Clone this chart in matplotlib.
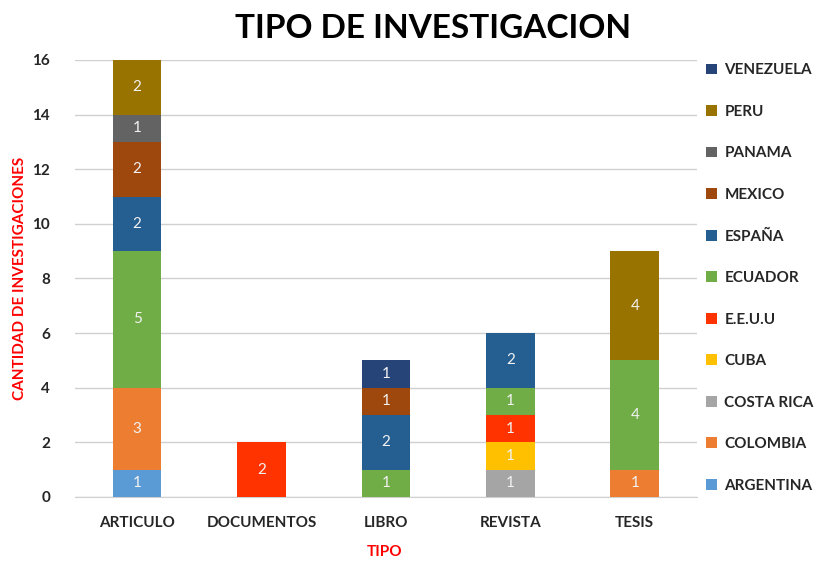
import matplotlib
matplotlib.use("Agg")
import matplotlib.pyplot as plt
import numpy as np

categories = ["ARTICULO", "DOCUMENTOS", "LIBRO", "REVISTA", "TESIS"]
countries = ["ARGENTINA", "COLOMBIA", "COSTA RICA", "CUBA", "E.E.U.U", "ECUADOR",
             "ESPAÑA", "MEXICO", "PANAMA", "PERU", "VENEZUELA"]
argentina = [1, 0, 0, 0, 0]
colombia = [3, 0, 0, 0, 1]
costa_rica = [0, 0, 0, 1, 0]
cuba = [0, 0, 0, 1, 0]
eeuu = [0, 2, 0, 1, 0]
ecuador = [5, 0, 1, 1, 4]
espana = [2, 0, 2, 2, 0]
mexico = [2, 0, 1, 0, 0]
panama = [1, 0, 0, 0, 0]
peru = [2, 0, 0, 0, 4]
venezuela = [0, 0, 1, 0, 0]
series = [argentina, colombia, costa_rica, cuba, eeuu, ecuador, espana, mexico, panama, peru, venezuela]
colors = ["#5B9BD5", "#ED7D31", "#A5A5A5", "#FFC000", "#FF3300", "#70AD47",
          "#255E91", "#9E480E", "#636363", "#997300", "#264478"]

plt.rcParams['font.family'] = ['Lato', 'DejaVu Sans']
fig = plt.figure(figsize=(8.27, 5.61), dpi=100)
ax = fig.add_axes([0.0907, 0.1141, 0.752, 0.779])
x = np.arange(len(categories))
bottom = np.zeros(len(categories))
handles = []
for name, vals, c in zip(countries, series, colors):
    vals = np.array(vals, dtype=float)
    b = ax.bar(x, vals, 0.39, bottom=bottom, color=c, label=name, zorder=3)
    for xi, v, bo in zip(x, vals, bottom):
        if v > 0:
            ax.text(xi, bo + v / 2, f"{int(v)}", ha="center", va="center",
                    color="#F2F2F2", fontsize=11, zorder=4)
    bottom += vals
    handles.append(b)

ax.set_xlim(-0.5, 4.5)
ax.set_ylim(0, 16)
ax.set_yticks(range(0, 17, 2))
ax.grid(axis="y", color="#D0D0D0", linewidth=1, zorder=0)
for s in ["top", "right", "left"]:
    ax.spines[s].set_visible(False)
ax.spines["bottom"].set_color("#D0D0D0")
ax.tick_params(length=0)
ax.set_xticks(x)
ax.set_xticklabels(categories, fontsize=11, color="#262626", fontweight="bold")
for t in ax.get_yticklabels():
    t.set_fontweight("bold")
    t.set_fontsize(11)
    t.set_color("#262626")
ax.tick_params(axis="y", pad=18)
ax.tick_params(axis="x", pad=14)
fig.text(385 / 827, 1 - 552 / 561, "TIPO", color="#FF0000", fontweight="bold", fontsize=11,
         ha="center", va="center")
ax.set_ylabel("CANTIDAD DE INVESTIGACIONES", color="#FF0000", fontweight="bold", fontsize=11)
ax.yaxis.set_label_coords(-0.078, 0.5)
fig.text(0.523, 0.95, "TIPO DE INVESTIGACION", ha="center", va="center",
         fontsize=24, fontweight="bold", color="#000000")

leg = ax.legend(handles[::-1], countries[::-1], loc="upper left", bbox_to_anchor=(1.0, 1.013),
                frameon=False, fontsize=11, handlelength=0.7, handleheight=0.7,
                labelspacing=1.8, handletextpad=0.5, borderaxespad=0.2)
for t in leg.get_texts():
    t.set_fontweight("bold")
    t.set_color("#262626")
fig.savefig("out.png", dpi=100)
